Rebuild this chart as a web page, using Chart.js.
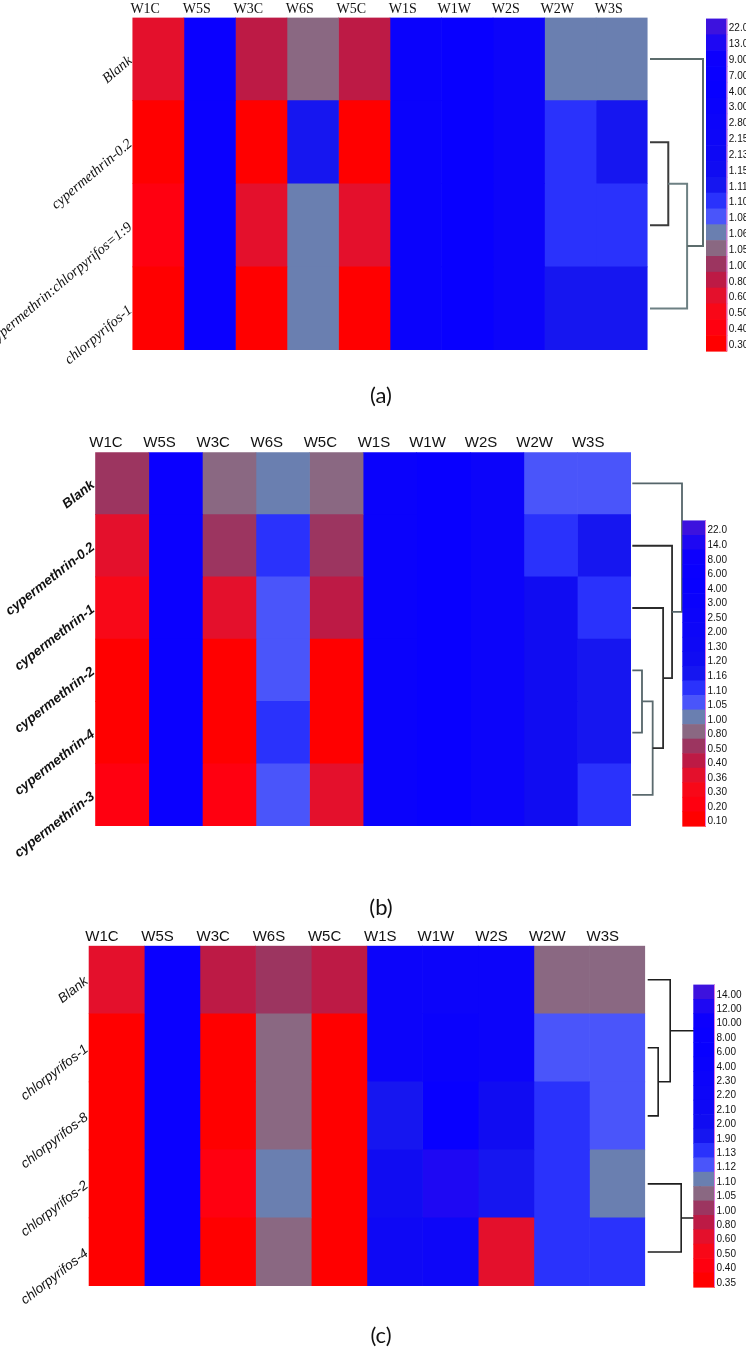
<!DOCTYPE html>
<html>
<head>
<meta charset="utf-8">
<script src="https://cdn.jsdelivr.net/npm/chart.js@4.4.1/dist/chart.umd.min.js"></script>
<style>
  html, body { margin: 0; padding: 0; background: #fff; }
  #fig { position: relative; width: 746px; height: 1370px; overflow: hidden; background: #fff; }
  .panel { position: absolute; left: 0; width: 746px; }
  .cap { position: absolute; left: 8px; width: 746px; text-align: center; font-family: Lato, "Open Sans", sans-serif; font-size: 22px; line-height: 26px; color: #111; }
</style>
</head>
<body>
<div id="fig">
  <div class="panel" style="top:0px"><canvas id="chartA" width="746" height="440"></canvas></div>
  <div class="panel" style="top:420px"><canvas id="chartB" width="746" height="470"></canvas></div>
  <div class="panel" style="top:900px"><canvas id="chartC" width="746" height="470"></canvas></div>
  <div class="cap" style="top:382px">(a)</div>
  <div class="cap" style="top:894px">(b)</div>
  <div class="cap" style="top:1322px">(c)</div>
</div>
<script>
// columnas comunes a los tres mapas
const columns = ['W1C', 'W5S', 'W3C', 'W6S', 'W5C', 'W1S', 'W1W', 'W2S', 'W2W', 'W3S'];

// (a)
const rowsA = ['Blank', 'cypermethrin-0.2', 'cypermethrin:chlorpyrifos=1:9', 'chlorpyrifos-1'];
const valuesA = [
    [0.62, 7.5, 0.85, 1.055, 0.85, 3.5, 4.5, 2.9, 1.065, 1.065],
    [0.32, 7.5, 0.32, 1.12, 0.32, 3.5, 4.5, 2.9, 1.105, 1.12],
    [0.45, 7.5, 0.62, 1.065, 0.62, 3.5, 4.5, 2.9, 1.105, 1.105],
    [0.32, 7.5, 0.32, 1.065, 0.32, 3.5, 4.5, 2.9, 1.12, 1.12]
];
const ticksA = ['22.0', '13.0', '9.00', '7.00', '4.00', '3.00', '2.80', '2.15', '2.13', '1.15', '1.11',
    '1.10', '1.08', '1.06', '1.05', '1.00', '0.80', '0.60', '0.50', '0.40', '0.30'];
const treeA = [[1, 2, 0.345], ['m0', 3, 0.70], [0, 'm1', 1.0]];

// (b)
const rowsB = ['Blank', 'cypermethrin-0.2', 'cypermethrin-1', 'cypermethrin-2', 'cypermethrin-4', 'cypermethrin-3'];
const valuesB = [
    [0.60, 6.5, 0.90, 1.02, 0.90, 3.5, 4.5, 2.8, 1.07, 1.07],
    [0.38, 6.5, 0.60, 1.12, 0.60, 3.5, 4.5, 2.8, 1.12, 1.18],
    [0.32, 6.5, 0.38, 1.07, 0.45, 3.5, 4.5, 2.8, 1.25, 1.12],
    [0.15, 6.5, 0.15, 1.07, 0.15, 3.5, 4.5, 2.8, 1.25, 1.18],
    [0.15, 6.5, 0.15, 1.12, 0.15, 3.5, 4.5, 2.8, 1.25, 1.18],
    [0.22, 6.5, 0.22, 1.07, 0.38, 3.5, 4.5, 2.8, 1.25, 1.12]
];
const ticksB = ['22.0', '14.0', '8.00', '6.00', '4.00', '3.00', '2.50', '2.00', '1.30', '1.20', '1.16',
    '1.10', '1.05', '1.00', '0.80', '0.50', '0.40', '0.36', '0.30', '0.20', '0.10'];
const treeB = [[3, 4, 0.195], ['m0', 5, 0.41], [2, 'm1', 0.62], [1, 'm2', 0.80], [0, 'm3', 1.0]];

// (c)
const rowsC = ['Blank', 'chlorpyrifos-1', 'chlorpyrifos-8', 'chlorpyrifos-2', 'chlorpyrifos-4'];
const valuesC = [
    [0.65, 9, 0.90, 1.02, 0.90, 2.5, 3.0, 2.4, 1.07, 1.07],
    [0.38, 9, 0.38, 1.07, 0.38, 2.5, 5.0, 2.4, 1.125, 1.125],
    [0.38, 9, 0.38, 1.07, 0.38, 1.95, 6.0, 2.05, 1.5, 1.125],
    [0.38, 9, 0.45, 1.11, 0.38, 2.05, 12.5, 1.95, 1.5, 1.11],
    [0.38, 9, 0.38, 1.07, 0.38, 2.15, 2.25, 0.65, 1.5, 1.5]
];
const ticksC = ['14.00', '12.00', '10.00', '8.00', '6.00', '4.00', '2.30', '2.20', '2.10', '2.00', '1.90',
    '1.13', '1.12', '1.10', '1.05', '1.00', '0.80', '0.60', '0.50', '0.40', '0.35'];
const treeC = [[1, 2, 0.20], [0, 'm0', 0.43], [3, 4, 0.64], ['m1', 'm2', 1.0]];

// paleta de la barra de color (de arriba a abajo)
const palette = ['#3d12de', '#1e08f3', '#0d00fd', '#0a00ff', '#0800ff', '#0a02fc', '#0c04fa', '#0d06f8',
    '#0e08f5', '#100cf2', '#1616f0', '#2a32fc', '#4a55fa', '#6a7fb0', '#8a6882', '#9c3560',
    '#bd1a45', '#e4102c', '#f80818', '#ff0010', '#ff0000'];

const sansNarrow = '"Liberation Sans Narrow", "Liberation Sans", Arial, sans-serif';

function colorFor(v, ticks) {
    for (let i = 0; i < ticks.length; i++) {
        if (v >= parseFloat(ticks[i])) return palette[i];
    }
    return palette[palette.length - 1];
}

const dendroPlugin = {
    id: 'dendro',
    afterDatasetsDraw(chart, args, opts) {
        const { ctx, chartArea, scales } = chart;
        const base = chartArea.right + opts.gap;
        const nodes = {};
        const pos = k => typeof k === 'number' ? { x: base, y: scales.y.getPixelForValue(k) } : nodes[k];
        ctx.save();
        ctx.lineWidth = opts.lineWidth;
        opts.tree.forEach((m, i) => {
            const a = pos(m[0]), b = pos(m[1]);
            const x = base + m[2] * opts.scale;
            ctx.strokeStyle = opts.colors[i];
            ctx.beginPath();
            ctx.moveTo(a.x, a.y);
            ctx.lineTo(x, a.y);
            ctx.lineTo(x, b.y);
            ctx.lineTo(b.x, b.y);
            ctx.stroke();
            nodes['m' + i] = { x: x, y: (a.y + b.y) / 2 };
        });
        ctx.restore();
    }
};

const colorbarPlugin = {
    id: 'colorbar',
    afterDraw(chart, args, opts) {
        const { ctx, chartArea } = chart;
        const n = opts.ticks.length;
        const left = chartArea.right + opts.offset;
        const top = chartArea.bottom + opts.dy - n * opts.binH;
        ctx.save();
        opts.ticks.forEach((t, i) => {
            ctx.fillStyle = palette[i];
            ctx.fillRect(left, top + i * opts.binH, opts.width, opts.binH + 0.6);
        });
        ctx.fillStyle = '#e07ade';
        ctx.fillRect(left + opts.width - 1, top, 1, n * opts.binH);
        ctx.fillStyle = '#111';
        ctx.font = `10px ${sansNarrow}`;
        ctx.textAlign = 'left';
        ctx.textBaseline = 'middle';
        opts.ticks.forEach((t, i) => {
            ctx.fillText(t, left + opts.width + 1.5, top + (i + 0.5) * opts.binH + opts.textDy);
        });
        ctx.restore();
    }
};

function heatmap(canvasId, rows, values, ticks, tree, st) {
    const datasets = columns.map((col, j) => ({
        label: col,
        data: rows.map(() => 1),
        backgroundColor: rows.map((r, i) => colorFor(values[i][j], ticks)),
        borderWidth: 0,
        barPercentage: 1,
        categoryPercentage: 1,
        xAxisID: 'x',
        yAxisID: 'y'
    }));

    new Chart(document.getElementById(canvasId), {
        type: 'bar',
        data: { labels: rows, datasets: datasets },
        options: {
            indexAxis: 'y',
            responsive: false,
            animation: false,
            events: [],
            devicePixelRatio: 1,
            layout: { padding: st.padding },
            plugins: {
                legend: { display: false },
                tooltip: { enabled: false },
                dendro: { tree: tree, gap: st.gap, scale: st.dendroW, colors: st.treeColors, lineWidth: st.lineWidth },
                colorbar: { ticks: ticks, offset: st.barOffset, width: st.barW, binH: st.binH, dy: st.barDy, textDy: st.textDy }
            },
            scales: {
                x: { type: 'linear', stacked: true, min: 0, max: columns.length, display: false },
                xTop: {
                    type: 'category',
                    position: 'top',
                    labels: columns,
                    offset: true,
                    grid: { display: false, drawTicks: false },
                    border: { display: false },
                    ticks: { font: st.colFont, color: '#111', labelOffset: st.labelOffset, padding: 0, autoSkip: false, maxRotation: 0 },
                    afterFit: s => { s.height = st.headerH; }
                },
                y: {
                    type: 'category',
                    stacked: true,
                    offset: true,
                    grid: { display: false, drawTicks: false },
                    border: { display: false },
                    ticks: { font: st.rowFont, color: '#111', minRotation: st.rot, maxRotation: st.rot, padding: 2, autoSkip: false },
                    afterFit: s => { s.width = st.axisW; }
                }
            }
        },
        plugins: [dendroPlugin, colorbarPlugin]
    });
}

heatmap('chartA', rowsA, valuesA, ticksA, treeA, {
    padding: { left: 0, top: 0, right: 98.4, bottom: 90 },
    axisW: 132.4, headerH: 17.5, labelOffset: -13, rot: 40,
    colFont: { family: '"Liberation Serif", "Times New Roman", serif', size: 14 },
    rowFont: { family: '"Liberation Serif", "Times New Roman", serif', size: 14.5, style: 'italic' },
    gap: 2.4, dendroW: 53, lineWidth: 2, treeColors: ['#3b3b3b', '#6d8083', '#5c6c6c'],
    barOffset: 58.4, barW: 21.3, binH: 15.83, barDy: 1, textDy: 2
});

heatmap('chartB', rowsB, valuesB, ticksB, treeB, {
    padding: { left: 0, top: 14.3, right: 115, bottom: 64 },
    axisW: 95.2, headerH: 18, labelOffset: -16, rot: 38,
    colFont: { family: sansNarrow, size: 15 },
    rowFont: { family: '"Liberation Sans", Arial, sans-serif', size: 13.5, style: 'italic', weight: 'bold' },
    gap: 1.3, dendroW: 49.7, lineWidth: 1.8, treeColors: ['#55656a', '#5b6a6e', '#2b2b2b', '#2b2b2b', '#55656a'],
    barOffset: 51.3, barW: 23.7, binH: 14.55, barDy: 0, textDy: 3
});

heatmap('chartC', rowsC, valuesC, ticksC, treeC, {
    padding: { left: 0, top: 27.7, right: 100.8, bottom: 84 },
    axisW: 88.6, headerH: 18, labelOffset: -14.5, rot: 38,
    colFont: { family: sansNarrow, size: 15 },
    rowFont: { family: '"Liberation Sans", Arial, sans-serif', size: 13.5, style: 'italic' },
    gap: 2.5, dendroW: 52.3, lineWidth: 1.6, treeColors: ['#1e1e1e', '#1e1e1e', '#1e1e1e', '#1e1e1e'],
    barOffset: 48.1, barW: 21.7, binH: 14.4, barDy: 1, textDy: 3
});
</script>
</body>
</html>
